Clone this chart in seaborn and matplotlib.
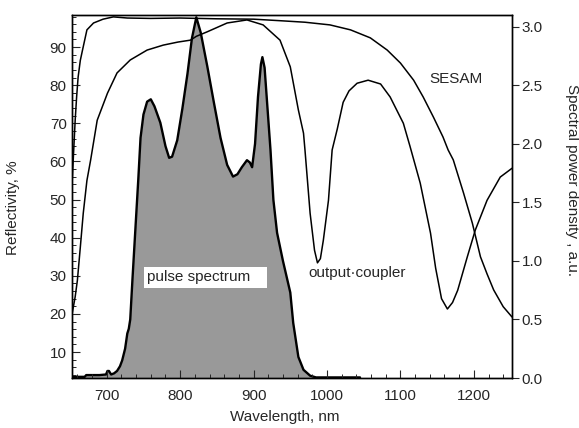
import numpy as np
import pandas as pd
import matplotlib
matplotlib.use("Agg")
import matplotlib.pyplot as plt
from matplotlib.ticker import MultipleLocator
import seaborn as sns

# --- du lieu doc tu hinh ---
# SESAM (do phan xa, %)
wl_sesam = [653, 655, 657, 659, 661, 664, 667, 673, 682, 695, 709, 728, 760, 800,
            850, 900, 936, 970, 1004, 1032, 1059, 1082, 1100, 1118, 1131, 1145,
            1158, 1165, 1172, 1186, 1198, 1209, 1218, 1227, 1240, 1252]
r_sesam = [55, 63, 70.8, 77, 82.1, 86.5, 89.2, 94.5, 96.3, 97.3, 97.9, 97.6, 97.5, 97.6,
           97.4, 97.3, 96.9, 96.5, 95.8, 94.5, 92.4, 89.2, 85.8, 81.3, 76.9, 71.6,
           66.4, 63, 60.4, 51.7, 43.8, 35, 30.5, 26.3, 21.9, 19.2]

# output coupler (do phan xa, %)
wl_oc = [653, 657, 660, 664, 668, 673, 678, 687, 701, 714, 732, 755, 777, 797, 814,
         822, 837, 864, 891, 913, 936, 950, 961, 968, 970, 977, 983, 987, 991, 995,
         1002, 1007, 1014, 1022, 1030, 1041, 1056, 1073, 1086, 1104, 1113, 1127,
         1141, 1148, 1156, 1164, 1171, 1178, 1191, 1202, 1218, 1236, 1252]
r_oc = [20.2, 24.5, 28.8, 37.5, 46.4, 55, 60.3, 70.8, 77.9, 83.2, 86.6, 89.2, 90.5, 91.3, 91.8,
        92.8, 94, 96.3, 97.1, 95.8, 91.8, 84.8, 73.5, 67.4, 63, 46.4, 36.7, 33.4, 34.5, 39.3,
        49.8, 63, 68.5, 75.5, 78.5, 80.5, 81.3, 80.3, 76.9, 70, 64, 54.3,
        41.2, 32, 24, 21.3, 23, 26.2, 34.9, 42, 49.8, 55.9, 58.2]

# pho xung (mat do cong suat, a.u.)
wl_pulse = [653, 670, 672, 690, 699, 701, 703, 706, 710, 714, 718, 721, 725, 728, 730,
            732, 735, 739, 743, 746, 750, 755, 760, 765, 773, 780, 785, 789, 796, 803,
            810, 816, 822, 828, 837, 846, 855, 864, 872, 878, 884, 891, 895, 898, 902,
            906, 910, 912, 915, 919, 923, 927, 932, 940, 950, 954, 961, 968, 977, 985, 1045]
p_pulse = [0.01, 0.01, 0.025, 0.025, 0.03, 0.06, 0.06, 0.03, 0.04, 0.06, 0.1, 0.15, 0.25, 0.38, 0.42,
           0.5, 0.84, 1.27, 1.7, 2.05, 2.25, 2.36, 2.38, 2.32, 2.18, 1.98, 1.88, 1.89, 2.03, 2.3,
           2.6, 2.9, 3.08, 2.95, 2.66, 2.35, 2.05, 1.82, 1.72, 1.74, 1.8, 1.86, 1.84, 1.8, 2.0,
           2.4, 2.68, 2.74, 2.65, 2.3, 1.95, 1.52, 1.24, 1.0, 0.73, 0.47, 0.18, 0.07, 0.02, 0.005, 0.005]

x_ticks = [700, 800, 900, 1000, 1100, 1200]
y_ticks_left = [10, 20, 30, 40, 50, 60, 70, 80, 90]
y_ticks_right = [0.0, 0.5, 1.0, 1.5, 2.0, 2.5, 3.0]

df_sesam = pd.DataFrame({'wl': wl_sesam, 'r': r_sesam})
df_oc = pd.DataFrame({'wl': wl_oc, 'r': r_oc})
df_pulse = pd.DataFrame({'wl': wl_pulse, 'p': p_pulse})

# --- ve ---
sns.set_theme(style='ticks')
plt.rcParams['font.family'] = ['Liberation Sans', 'DejaVu Sans']
plt.rcParams['font.size'] = 11

fig = plt.figure(figsize=(5.79, 4.28), dpi=100)
ax = fig.add_axes([0.1235, 0.1168, 0.7608, 0.8482])
ax2 = ax.twinx()

# pho xung o truc phai, nam duoi cac duong phan xa
ax2.fill_between(df_pulse['wl'], 0, df_pulse['p'], color='#999999', lw=0)
sns.lineplot(data=df_pulse, x='wl', y='p', ax=ax2, color='black', lw=1.7,
             sort=False, estimator=None)
ax2.set_ylim(0, 3.1)
ax2.set_yticks(y_ticks_right)
ax2.set_yticklabels([f'{v:.1f}' for v in y_ticks_right])
ax2.tick_params(axis='y', direction='out', length=5, width=0.8, labelsize=11, pad=2)
ax2.set_ylabel('Spectral power density , a.u.', fontsize=11, rotation=270, va='center')
ax2.yaxis.set_label_coords(1.136, 0.545)

ax.set_zorder(ax2.get_zorder() + 1)
ax.patch.set_visible(False)

sns.lineplot(data=df_sesam, x='wl', y='r', ax=ax, color='black', lw=1.1,
             sort=False, estimator=None)
sns.lineplot(data=df_oc, x='wl', y='r', ax=ax, color='black', lw=1.1,
             sort=False, estimator=None)

ax.set_xlim(652, 1252)
ax.set_ylim(3.2, 98.4)
ax.set_xticks(x_ticks)
ax.set_yticks(y_ticks_left)
ax.xaxis.set_minor_locator(MultipleLocator(20))
ax.yaxis.set_minor_locator(MultipleLocator(2))
ax.tick_params(axis='both', which='major', direction='in', length=6, width=0.8, labelsize=11)
ax.tick_params(axis='both', which='minor', direction='in', length=3, width=0.7)
ax.tick_params(axis='x', pad=8)
ax.set_xlabel('Wavelength, nm', fontsize=11)
ax.set_ylabel('Reflectivity, %', fontsize=11)
ax.xaxis.set_label_coords(0.485, -0.088)
ax.yaxis.set_label_coords(-0.117, 0.468)

for a in (ax, ax2):
    for s in a.spines.values():
        s.set_color('black')
        s.set_linewidth(1.0)

# chu thich
ax.text(1139, 81.7, 'SESAM', fontsize=11, ha='left', va='center')
ax.text(974, 30.8, 'output\u00b7coupler', fontsize=11, ha='left', va='center')
ax.text(755, 29.6, 'pulse spectrum   ', fontsize=11, ha='left', va='center',
        bbox=dict(facecolor='white', edgecolor='none', pad=2.5))

fig.savefig('out.png', dpi=100)
